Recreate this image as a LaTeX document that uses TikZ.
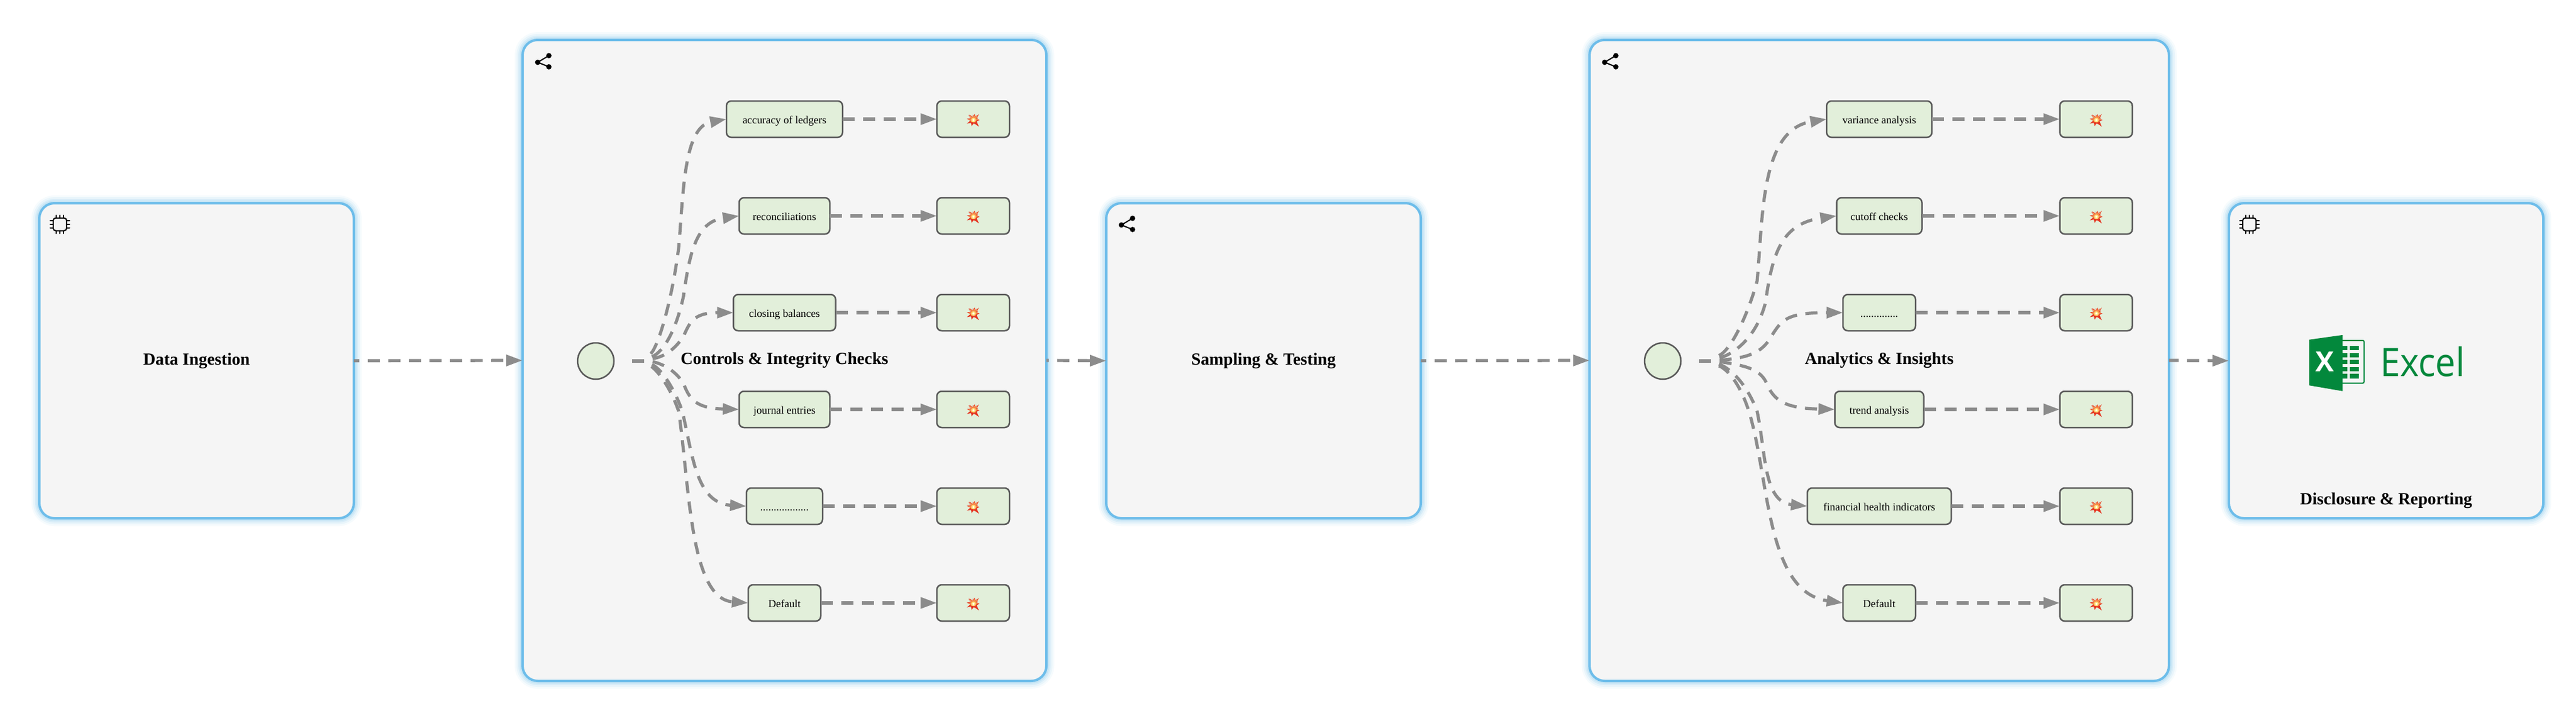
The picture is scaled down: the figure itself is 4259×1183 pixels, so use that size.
\documentclass[tikz,border=0pt]{standalone}
\usepackage{fontspec}
\setmainfont{Liberation Serif}
\newfontfamily\emojifont{Noto Emoji}
\newfontfamily\xlfont{Open Sans}
\usetikzlibrary{arrows.meta,shapes.geometric}
\definecolor{panelfill}{HTML}{F5F5F5}
\definecolor{panelline}{HTML}{6DBDEA}
\definecolor{glowcol}{HTML}{6DBDEA}
\definecolor{itemfill}{HTML}{E2EFDA}
\definecolor{itemline}{HTML}{595959}
\definecolor{flowgray}{HTML}{8C8C8C}
\definecolor{xlgreen}{HTML}{03883C}
\definecolor{burstred}{HTML}{E5321E}
\definecolor{burstorange}{HTML}{F58A4B}
\definecolor{burstyellow}{HTML}{FFE27A}
\tikzset{
  x=0.5pt,y=-0.5pt,
  panel/.style={rectangle,rounded corners=12.5pt,fill=panelfill,draw=panelline,line width=2pt,
    inner sep=0pt,outer sep=0pt,font=\fontsize{14.1}{17}\selectfont\bfseries,align=center,
    preaction={draw=glowcol,draw opacity=.06,line width=13pt},
    preaction={draw=glowcol,draw opacity=.09,line width=10pt},
    preaction={draw=glowcol,draw opacity=.13,line width=7pt},
    preaction={draw=glowcol,draw opacity=.16,line width=4.5pt}},
  item/.style={rectangle,rounded corners=4pt,fill=itemfill,draw=itemline,line width=1.25pt,
    minimum height=30pt,inner sep=0pt,outer sep=0pt,text height=9pt,text depth=1.5pt,
    font=\fontsize{8.9}{11}\selectfont},
  boombox/.style={item,minimum width=60pt,text=burstred,text height=7pt,text depth=1pt,font=\emojifont\fontsize{8}{8}\selectfont},
  hub/.style={circle,fill=itemfill,draw=itemline,line width=1.25pt,minimum size=30pt,inner sep=0pt,outer sep=0pt},
  flow/.style={draw=flowgray,line width=2.6pt,dash pattern=on 10pt off 7pt,
    -{Triangle[length=13.5pt,width=9pt]}},
  stub/.style={draw=flowgray,line width=2.6pt,dash pattern=on 0pt off 15pt on 10pt off 20pt},
  icon/.style={line width=1pt,draw=black,line cap=round},
}
\newcommand{\chipicon}[2]{%
  \begin{scope}[shift={(#1,#2)}]
    \draw[icon,rounded corners=2pt] (-11,-10.5) rectangle (11,10.5);
    \foreach \p in {-6,0,6}{
      \draw[icon] (\p,-10.5) -- (\p,-15);
      \draw[icon] (\p,10.5) -- (\p,15);
      \draw[icon] (-11,\p) -- (-16,\p);
      \draw[icon] (11,\p) -- (16,\p);
    }
  \end{scope}}
\newcommand{\shareicon}[2]{%
  \begin{scope}[shift={(#1,#2)}]
    \draw[line width=1pt] (18.5,-11) -- (0,0) -- (18.5,7.5);
    \fill (0,0) circle (2.2pt);
    \fill (18.5,-11) circle (2.2pt);
    \fill (18.5,7.5) circle (2.2pt);
  \end{scope}}
\newcommand{\resultbox}[3]{%
  \node[boombox] (#1) at (#2,#3) {💥};
  \begin{scope}[shift={(#2+0.5,#3+1.5)}]
    \fill[burstred] (9,-10) -- (3.5,-4.5) -- (2,-10) -- (-1,-5) -- (-7,-9) -- (-4,-3) -- (-11,-2) -- (-5,1)
      -- (-11,6) -- (-4,4.5) -- (-3,10) -- (0.5,5) -- (9,11) -- (5,2) -- (10,0) -- (5,-2) -- cycle;
    \fill[burstorange] (7,-8) -- (3,-5) -- (1.5,-8.5) -- (-1,-5) -- (-6,-7) -- (-4,-2.5) -- (-9,-1) -- (-4.5,1.5)
      -- (-4,3.5) -- (-1,3.5) -- (3,4) -- (4,1.5) -- (8,-1) -- (4.5,-2.5) -- cycle;
    \fill[burstyellow] (0,0) circle (1.9pt);
    \fill[white] (0,0) circle (0.9pt);
  \end{scope}}
\begin{document}
\begin{tikzpicture}
\useasboundingbox (0,0) rectangle (4259,1183);
\fill[white] (0,0) rectangle (4259,1183);

% panels
\node[panel,minimum width=260pt,minimum height=260.5pt] (ingest) at (325,596.5) {Data Ingestion};
\node[panel,minimum width=433pt,minimum height=530pt] (controls) at (1297,596) {Controls \& Integrity Checks};
\node[panel,minimum width=260pt,minimum height=260.5pt] (sampling) at (2089,596.5) {Sampling \& Testing};
\node[panel,minimum width=479pt,minimum height=530pt] (analytics) at (3107,596) {Analytics \& Insights};
\node[panel,minimum width=260pt,minimum height=260.5pt] (report) at (3945,596.5) {};
\node[inner sep=0pt,font=\fontsize{14.1}{17}\selectfont\bfseries] (reporttitle) at (3945,828) {Disclosure \& Reporting};

% icons
\chipicon{99}{371}
\chipicon{3719}{371}
\shareicon{889}{103}
\shareicon{2653}{103}
\shareicon{1854}{372}

% first group
\node[hub] (h1) at (985,597) {};
\coordinate (j1) at (1078,597);
\coordinate (j1a) at (1076,585);
\coordinate (j1b) at (1078,590);
\coordinate (j1c) at (1079,593);
\coordinate (j1d) at (1079,598);
\coordinate (j1e) at (1078,603);
\coordinate (j1f) at (1077,606);
\node[item,minimum width=96pt] (a1) at (1297,197) {accuracy of ledgers};
\node[item,minimum width=75pt] (a2) at (1297,357) {reconciliations};
\node[item,minimum width=84.5pt] (a3) at (1297,517) {closing balances};
\node[item,minimum width=75pt] (a4) at (1297,677) {journal entries};
\node[item,minimum width=63pt] (a5) at (1297,837) {..................};
\node[item,minimum width=60pt] (a6) at (1297,997) {Default};
\resultbox{r1}{1609}{197}
\resultbox{r2}{1609}{357}
\resultbox{r3}{1609}{517}
\resultbox{r4}{1609}{677}
\resultbox{r5}{1609}{837}
\resultbox{r6}{1609}{997}

\draw[stub] (h1.east) -- (j1);
\draw[flow] (j1a) .. controls (1090,570) and (1112,490) .. (1122,410) .. controls (1130,320) and (1130,210) .. (a1.west);
\draw[flow] (j1b) .. controls (1098,581) and (1118,545) .. (1130,490) .. controls (1140,420) and (1150,367) .. (a2.west);
\draw[flow] (j1c) .. controls (1100,590) and (1118,575) .. (1130,556) .. controls (1140,535) and (1145,517) .. (a3.west);
\draw[flow] (j1d) .. controls (1100,603) and (1118,615) .. (1130,634) .. controls (1140,660) and (1150,675) .. (a4.west);
\draw[flow] (j1e) .. controls (1096,611) and (1118,650) .. (1128,680) .. controls (1145,750) and (1150,832) .. (a5.west);
\draw[flow] (j1f) .. controls (1093,618) and (1112,650) .. (1122,680) .. controls (1140,800) and (1140,990) .. (a6.west);
\foreach \k in {1,...,6}{\draw[flow] (a\k.east) -- (r\k.west);}

% second group
\node[hub] (h2) at (2749,597) {};
\coordinate (j2) at (2842,597);
\coordinate (j2a) at (2842,588);
\coordinate (j2b) at (2843,592);
\coordinate (j2c) at (2843,596);
\coordinate (j2d) at (2843,598);
\coordinate (j2e) at (2842,602);
\coordinate (j2f) at (2842,605);
\node[item,minimum width=87pt] (b1) at (3107,197) {variance analysis};
\node[item,minimum width=70.5pt] (b2) at (3107,357) {cutoff checks};
\node[item,minimum width=60pt] (b3) at (3107,517) {..............};
\node[item,minimum width=73.5pt] (b4) at (3107,677) {trend analysis};
\node[item,minimum width=119pt] (b5) at (3107,837) {financial health indicators};
\node[item,minimum width=60pt] (b6) at (3107,997) {Default};
\resultbox{s1}{3465.5}{197}
\resultbox{s2}{3465.5}{357}
\resultbox{s3}{3465.5}{517}
\resultbox{s4}{3465.5}{677}
\resultbox{s5}{3465.5}{837}
\resultbox{s6}{3465.5}{997}

\draw[stub] (h2.east) -- (j2);
\draw[flow] (j2a) .. controls (2862,579) and (2890,520) .. (2905,465) .. controls (2915,360) and (2910,215) .. (b1.west);
\draw[flow] (j2b) .. controls (2870,584) and (2905,555) .. (2919,500) .. controls (2930,420) and (2945,370) .. (b2.west);
\draw[flow] (j2c) .. controls (2880,592) and (2908,588) .. (2925,562) .. controls (2945,530) and (2950,517) .. (b3.west);
\draw[flow] (j2d) .. controls (2880,604) and (2908,608) .. (2920,632) .. controls (2932,662) and (2950,675) .. (b4.west);
\draw[flow] (j2e) .. controls (2865,611) and (2890,640) .. (2905,680) .. controls (2920,750) and (2915,830) .. (b5.west);
\draw[flow] (j2f) .. controls (2862,613) and (2885,650) .. (2897,700) .. controls (2925,810) and (2925,980) .. (b6.west);
\foreach \k in {1,...,6}{\draw[flow] (b\k.east) -- (s\k.west);}

% main chain
\draw[flow,dash phase=5.5pt] (ingest.east) -- (controls.west);
\draw[flow,dash phase=8pt] (controls.east) -- (sampling.west);
\draw[flow,dash phase=5.5pt] (sampling.east) -- (analytics.west);
\draw[flow,dash phase=2pt] (analytics.east) -- (report.west);

% Excel logo
\fill[xlgreen] (3818,561.7) -- (3872.7,554) -- (3872.7,646.7) -- (3818,637.3) -- cycle;
\draw[xlgreen,line width=1pt,rounded corners=1pt] (3872.7,563) -- (3908.5,563) -- (3908.5,633.5) -- (3872.7,633.5);
\foreach \t/\b in {572/579,583.7/590.7,595.3/602.3,607/614,618.3/626}{
  \fill[xlgreen] (3872.7,\t) rectangle (3881,\b);
  \fill[xlgreen] (3885,\t) rectangle (3900,\b);
}
\node[inner sep=0pt,text=white,font=\xlfont\fontsize{22.9}{24}\selectfont\bfseries] (xlmark) at (3843.5,598.3) {X};
\node[inner sep=0pt,outer sep=0pt,anchor=base west,text=xlgreen,font=\xlfont\fontsize{32.5}{34}\selectfont] (xlname) at (3935,622.7) {\scalebox{0.92}[1]{Excel}};
\end{tikzpicture}
\end{document}
